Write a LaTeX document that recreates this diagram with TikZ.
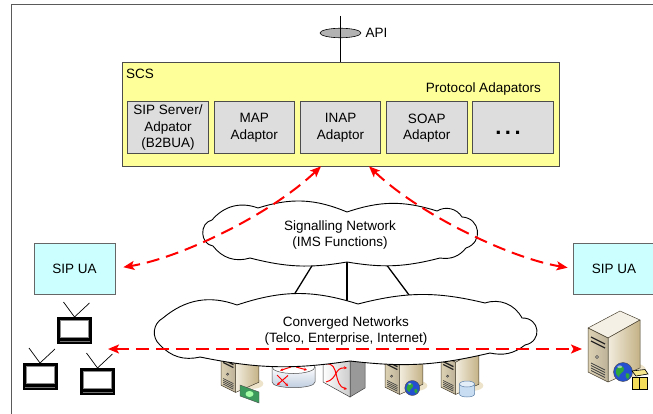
\documentclass[tikz,border=0pt]{standalone}
\usepackage{fontspec}
\setmainfont{Liberation Sans}
\usetikzlibrary{calc,arrows.meta,shapes.geometric}

\definecolor{scsfill}{HTML}{FFFF99}
\definecolor{adfill}{HTML}{DDDDDD}
\definecolor{uafill}{HTML}{CCFFFF}
\definecolor{linkred}{HTML}{FF0000}
\definecolor{framegray}{HTML}{5A5A5A}
\definecolor{beigetop}{HTML}{F4F0E5}
\definecolor{beigelight}{HTML}{F2ECDD}
\definecolor{beigemid}{HTML}{DED2B4}
\definecolor{beigedark}{HTML}{C4B286}
\definecolor{beigeshadow}{HTML}{ECE3CA}
\definecolor{serveredge}{HTML}{4A4232}
\definecolor{globeblue}{HTML}{2450D0}
\definecolor{globegreen}{HTML}{2FA83A}
\definecolor{billgreen}{HTML}{3C9A5C}
\definecolor{dbblue}{HTML}{C9DDF2}
\definecolor{dbedge}{HTML}{5B7FA6}
\definecolor{routerblue}{HTML}{B9C8DC}
\definecolor{boxyellow}{HTML}{F2DC5A}

\tikzset{
  % beige tower server, origin at the upper left corner of the front panel
  server/.pic={
    \fill[beigeshadow] (44,42) ellipse[x radius=14pt, y radius=7pt];
    \draw[serveredge, line width=0.5pt, fill=beigetop, line join=round]
      (0,0) -- (32,-17) -- (52,-8) -- (20,10) -- cycle;
    \draw[serveredge, line width=0.5pt, left color=beigelight, right color=beigedark, line join=round]
      (20,10) -- (52,-8) -- (52,40) -- (20,54) -- cycle;
    \draw[serveredge, line width=0.5pt, left color=beigemid, right color=beigemid!85!black, line join=round]
      (0,0) -- (20,10) -- (20,54) -- (0,44) -- cycle;
    \draw[line width=1.3pt, black!85] (3,9) -- (17,16) (3,13) -- (17,20);
    \draw[black!80, line width=0.5pt, fill=beigelight] (9,29) circle[radius=1.5pt];
    \foreach \v in {35,37.5,40,42.5} \draw[black!75, line width=0.7pt] (3,\v) -- (17,\v+7);
  },
  % small globe, unit radius
  globe/.pic={
    \fill[globeblue] (0,0) circle[radius=1pt];
    \fill[globegreen] (-0.6,-0.45) .. controls (-0.2,-0.85) and (0.25,-0.5) .. (0.05,-0.1)
      .. controls (-0.1,0.25) and (-0.45,0.1) .. (-0.4,0.55) .. controls (-0.85,0.25) and (-0.85,-0.15) .. cycle;
    \fill[globegreen] (0.3,0.15) .. controls (0.7,0.0) and (0.85,0.45) .. (0.5,0.75)
      .. controls (0.3,0.6) and (0.2,0.4) .. cycle;
    \fill[white, opacity=0.5] (-0.35,-0.55) ellipse[x radius=0.25pt, y radius=0.15pt];
    \draw[black!70, line width=0.4pt] (0,0) circle[radius=1pt];
  },
  % television set, origin at the middle of the top edge
  tv/.pic={
    \draw[black, line width=0.7pt] (-11,-15) -- (0,0) -- (15,-14);
    \fill[black] (-17.5,0) rectangle (17.5,27);
    \fill[white] (-14.5,3) rectangle (14.5,21);
    \draw[black!45, line width=1pt] (-14,3.5) rectangle (14,20.5);
    \draw[black!55, line width=1pt] (-15,24) -- (15,24);
  }
}

\begin{document}
\begin{tikzpicture}[x=1pt, y=-1pt,
  font=\fontsize{13.5}{16}\selectfont,
  adaptor/.style={draw=black!70, line width=1pt, fill=adfill, minimum width=80.5pt,
    minimum height=52pt, inner sep=0pt, align=center, font=\fontsize{13.5}{16.5}\selectfont},
  uabox/.style={draw=black!60, line width=0.8pt, fill=uafill, minimum height=51pt, inner sep=0pt},
  cloudline/.style={draw=black, line width=0.9pt, fill=white, line join=round},
  link/.style={draw=black, line width=1.3pt},
  sigarrow/.style={draw=linkred, line width=2pt, dash pattern=on 13pt off 7pt,
    {Stealth[length=11pt,width=9pt,inset=2.5pt]}-{Stealth[length=11pt,width=9pt,inset=2.5pt]}},
  redtip/.style={draw=linkred, line width=1pt, -{Stealth[length=3pt,width=3pt]}}
]
\useasboundingbox (0,0) rectangle (653,414);

% outer frame
\draw[framegray, line width=1.4pt] (11.7,416) -- (11.7,4.3) -- (653,4.3);

% service capability server
\node[draw=black!70, line width=0.7pt, fill=scsfill, minimum width=437pt,
      minimum height=104pt, inner sep=0pt] (scs) at (340.5,114) {};
\node[anchor=base west, inner sep=0pt] (scs-label) at (126,79) {SCS};
\node[anchor=base east, inner sep=0pt] (pa-label) at (541,92.5) {Protocol Adapators};
\node[adaptor] (ad-sip)  at (168,128)    {SIP Server/\\Adpator\\(B2BUA)};
\node[adaptor] (ad-map)  at (254.25,128) {MAP\\Adaptor};
\node[adaptor] (ad-inap) at (340.5,128)  {INAP\\Adaptor};
\node[adaptor] (ad-soap) at (426.75,128) {SOAP\\Adaptor};
\node[adaptor] (ad-more) at (513,128)    {};
\node[inner sep=0pt] (ad-more-dots) at (508,133)
  {\fontsize{22}{22}\selectfont\bfseries .\hspace{3.5pt}.\hspace{3.5pt}.};

% API
\coordinate (api-top) at (340.5,16);
\node[ellipse, draw=black, line width=0.6pt, fill=black!30, minimum width=41pt,
      minimum height=9.5pt, inner sep=0pt] (api) at (340.5,33) {};
\draw[black, line width=1.3pt] (api-top) -- (scs.north);
\node[anchor=west, inner sep=0pt] (api-label) at ([xshift=4pt]api.east) {API};

% links between the signalling network and the converged networks
\coordinate (sig-l) at (318,256);
\coordinate (sig-m) at (347,256);
\coordinate (sig-r) at (380,256);
\coordinate (conv-l) at (289,303);
\coordinate (conv-m) at (347,305);
\coordinate (conv-r) at (415,303);
\draw[link] (sig-l) -- (conv-l);
\draw[link] (sig-m) -- (conv-m);
\draw[link] (sig-r) -- (conv-r);

% network elements below the converged networks
\pic at (221,353) [scale=0.73] {server};
\draw[black!70, line width=0.4pt, fill=billgreen] (240,385) -- (259,392) -- (259,403) -- (240,396) -- cycle;
\fill[green!35!white] (249.5,394) ellipse[x radius=4pt, y radius=3pt];

% router
\draw[black!70, line width=0.5pt, top color=white, bottom color=routerblue]
  (272,367) -- (272,382) .. controls (272,389.5) and (315,389.5) .. (315,382) -- (315,367) -- cycle;
\draw[black!70, line width=0.5pt, fill=white] (293.5,367) ellipse[x radius=21.5pt, y radius=6.5pt];
\draw[redtip] (291,367) -- (280,370.5);
\draw[redtip] (296,367) -- (307,370);
\draw[redtip] (283,362.5) -- (290,365.5);
\draw[redtip] (305,363) -- (297,365.5);
\draw[redtip] (277,375) -- (288,386);
\draw[redtip] (288,375.5) -- (277,385);

% switch
\draw[black!75, line width=0.5pt, fill=black!40] (350,362) -- (365,354) -- (365,388) -- (350,397) -- cycle;
\draw[black!75, line width=0.5pt, left color=white, right color=black!20]
  (323,347) -- (350,362) -- (350,397) -- (323,382) -- cycle;
\draw[redtip] (326,364) .. controls (340,362) and (333,386) .. (347,389);
\draw[redtip] (326,382) .. controls (338,379) and (334,367) .. (347,368);

\pic at (385,355) [scale=0.73] {server};
\pic at (412.3,388) [scale=7.5] {globe};
\pic at (441,355) [scale=0.73] {server};
\draw[dbedge, line width=0.5pt, fill=dbblue]
  (459.5,384) -- (459.5,394) .. controls (459.5,398) and (474.5,398) .. (474.5,394) -- (474.5,384) -- cycle;
\draw[dbedge, line width=0.5pt, fill=dbblue!50!white] (467,384) ellipse[x radius=7.5pt, y radius=3pt];

% signalling network cloud
\draw[cloudline] (213,246) to[bend left=80, looseness=1.3] (212,220) to[bend left=35] (258,208)
  to[bend left=20] (347,212) to[bend left=18] (437,211) to[bend left=45] (462,217)
  to[bend left=80, looseness=1.5] (466,248) to[bend left=30] (440,258) to[bend left=12] (347,262)
  to[bend left=12] (250,258) to[bend left=35] (213,246) -- cycle;
\node[align=center, inner sep=0pt] (signet) at (340,235) {Signalling Network\\(IMS Functions)};

% converged networks cloud
\draw[cloudline] (160,345) to[bend left=55, looseness=1.1] (163,318) to[bend left=30] (237,305)
  to[bend left=18] (358,304) to[bend left=14] (485,303) to[bend left=40] (522,318)
  to[bend left=85, looseness=1.7] (525,345) to[bend left=25] (490,353) to[bend left=10] (350,361)
  to[bend left=10] (200,357) to[bend left=30] (160,345) -- cycle;
\node[align=center, inner sep=0pt] (convnet) at (346,331) {Converged Networks\\(Telco, Enterprise, Internet)};

% user agents
\node[uabox, minimum width=81pt] (ua-l) at (74.5,268.5) {SIP UA};
\node[uabox, minimum width=82pt] (ua-r) at (614,268.5) {SIP UA};

% client terminals
\pic at (74.5,317) {tv};
\pic at (40,363) {tv};
\pic at (97.5,368) {tv};

% application server
\pic at (588,328) {server};
\pic at (623,372) [scale=9.5] {globe};
\draw[black, line width=0.6pt, fill=boxyellow!70] (632,371) -- (636,376) -- (648,374) -- (645,369.5) -- cycle;
\draw[black, line width=0.6pt, fill=boxyellow] (632,377) rectangle (647,389);
\draw[black, line width=0.6pt] (639.5,377) -- (639.5,389);

% signalling paths
\coordinate (terminals) at (108,349);
\coordinate (app-server) at (582,349);
\draw[sigarrow, shorten >=8pt] ($(scs.south)+(-19.5,0)$) .. controls (270,215) and (180,258) .. (ua-l.east);
\draw[sigarrow, shorten >=5pt] ($(scs.south)+(28.5,0)$) .. controls (420,215) and (510,258) .. (ua-r.west);
\draw[sigarrow] (terminals) -- (app-server);
\end{tikzpicture}
\end{document}
